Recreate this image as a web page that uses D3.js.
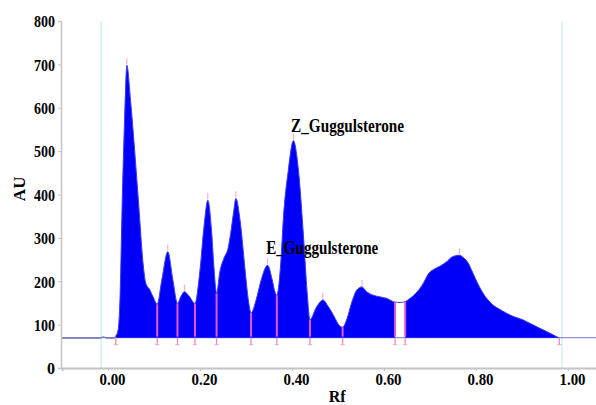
<!DOCTYPE html>
<html><head><meta charset="utf-8">
<script src="https://cdn.jsdelivr.net/npm/d3@7"></script>
<style>
html,body{margin:0;padding:0;background:#fff;overflow:hidden;}
text{font-family:"Liberation Serif","Times New Roman",serif;font-weight:bold;fill:#000;}
</style></head>
<body><svg id="c" width="596" height="405"></svg>
<script>
// Densitogram trace (Rf, AU)
const rf = [-0.102,-0.017,-0.011,-0.0065,-0.002,0.013,0.017,0.022,0.026,0.031,0.036,0.041,
  0.049,0.055,0.066,0.077,0.082,0.091,0.098,0.107,
  0.117,0.130,0.141,0.151,
  0.159,0.166,0.176,0.189,
  0.200,0.209,0.217,0.225,0.230,0.236,
  0.243,0.252,0.261,0.267,0.273,0.278,0.287,0.298,0.305,0.311,
  0.322,0.333,0.347,0.357,0.363,0.367,
  0.370,0.376,0.381,0.392,0.403,0.414,0.425,0.433,0.439,
  0.452,0.461,0.467,0.478,0.491,0.502,0.510,
  0.520,0.530,0.541,0.552,0.561,0.576,0.591,0.607,0.620,0.624,0.635,0.646,
  0.657,0.670,0.683,0.698,0.711,0.722,0.735,0.748,0.764,0.774,0.783,0.791,0.800,
  0.815,0.826,0.837,0.852,0.865,0.883,0.902,0.917,0.938,0.959,0.981];
const au = [69,69,72,71,69,69,74,88,157,387,571,698,
  617,541,387,233,196,180,164,147,
  203,268,203,149,
  166,176,166,149,
  226,329,387,318,237,172,
  221,253,276,313,359,391,341,226,157,127,
  157,203,237,203,175,168,
  180,249,341,456,524,456,303,173,111,
  138,152,157,143,120,99,94,
  115,152,180,187,177,168,164,160,153,152,151,153,
  161,173,191,219,229,235,244,256,260,253,242,224,203,
  173,157,145,135,127,118,111,103,92,81,69];
const baselineAU = 70;
const trackStart = -0.015, trackEnd = 0.987;
const gapFrom = 0.624, gapTo = 0.646;
const fillStart = 0.017, fillEnd = 0.981;
// integration boundaries (valleys) and their heights
const valleyRf = [0.107,0.151,0.189,0.236,0.311,0.367,0.439,0.510,0.624,0.646];
const valleyAU = [147,149,149,172,127,168,111,94,152,153];
// peak maxima
const peakRf = [0.041,0.130,0.166,0.217,0.278,0.347,0.403,0.467,0.552,0.764];
const peakAU = [698,268,176,387,391,237,524,157,187,260];
// annotations
const labels = [
  {text:"Z_Guggulsterone", rf:0.398, au:545, len:113},
  {text:"E_Guggulsterone", rf:0.344, au:262, len:112}
];
const xTicks = [0,0.2,0.4,0.6,0.8,1.0];
const yTicks = [0,100,200,300,400,500,600,700,800];

const svg = d3.select("#c");
const x = d3.scaleLinear().domain([-0.1,1.063]).range([62,597]);
const y = d3.scaleLinear().domain([0,800]).range([368,21]);
const pts = rf.map((r,i)=>({r:r,v:au[i]}));

// track limit lines
svg.selectAll("line.trk").data([trackStart,trackEnd]).enter().append("line")
  .attr("x1",d=>x(d)).attr("x2",d=>x(d)).attr("y1",y(800)).attr("y2",y(0))
  .attr("stroke","#bde9f2").attr("stroke-width",1);

// baseline
svg.append("line").attr("x1",x(-0.1)).attr("x2",597)
  .attr("y1",y(baselineAU)).attr("y2",y(baselineAU))
  .attr("stroke","#8f8fd8").attr("stroke-width",1.2);

const area = d3.area().x(d=>x(d.r)).y0(y(baselineAU)).y1(d=>y(d.v)).curve(d3.curveMonotoneX);
const seg1 = pts.filter(d=>d.r>=fillStart && d.r<=gapFrom);
const seg2 = pts.filter(d=>d.r>=gapTo && d.r<=fillEnd);
[seg1,seg2].forEach(s=>svg.append("path").datum(s).attr("d",area).attr("fill","#0000fa"));

const line = d3.line().x(d=>x(d.r)).y(d=>y(d.v)).curve(d3.curveMonotoneX);
svg.append("path").datum(pts.filter(d=>d.r<=fillStart+0.001)).attr("d",line)
  .attr("fill","none").attr("stroke","#6a78a8").attr("stroke-width",1.2);
svg.append("path").datum(pts.filter(d=>d.r>=fillStart)).attr("d",line)
  .attr("fill","none").attr("stroke","#3a3af0").attr("stroke-width",1);

// drop lines
const pink = "#e45ac8";
svg.selectAll("line.drop").data(valleyRf).enter().append("line")
  .attr("x1",d=>x(d)).attr("x2",d=>x(d))
  .attr("y1",(d,i)=>y(valleyAU[i])).attr("y2",y(baselineAU)-1)
  .attr("stroke",pink).attr("stroke-width",2);
// marks below baseline
const allMarks = [fillStart].concat(valleyRf,[fillEnd]);
svg.selectAll("line.bm").data(allMarks).enter().append("line")
  .attr("x1",d=>x(d)).attr("x2",d=>x(d))
  .attr("y1",y(baselineAU)).attr("y2",y(baselineAU)+7)
  .attr("stroke","#ee88c8").attr("stroke-width",1.3);
svg.selectAll("line.bf").data(allMarks).enter().append("line")
  .attr("x1",d=>x(d)-2).attr("x2",d=>x(d)+2)
  .attr("y1",y(baselineAU)+7).attr("y2",y(baselineAU)+7)
  .attr("stroke","#f0a0d0").attr("stroke-width",1);
// peak marks
svg.selectAll("line.pk").data(peakRf).enter().append("line")
  .attr("x1",d=>x(d)).attr("x2",d=>x(d))
  .attr("y1",(d,i)=>y(peakAU[i])-1).attr("y2",(d,i)=>y(peakAU[i])-7)
  .attr("stroke","#f0a0c8").attr("stroke-width",1);

// axes
const gy = svg.append("g").attr("transform",`translate(${x(-0.1)-1},0)`)
  .call(d3.axisLeft(y).tickValues(yTicks).tickSize(3).tickFormat(d3.format("d")));
const gx = svg.append("g").attr("transform",`translate(0,${y(0)})`)
  .call(d3.axisBottom(x).tickValues(xTicks).tickSize(3).tickFormat(d3.format(".2f")));
[gy,gx].forEach(g=>{
  g.selectAll("path.domain").attr("stroke","#c4c4c4");
  g.selectAll(".tick line").attr("stroke","#c4c4c4");
});
gy.select("path.domain").attr("stroke-width",1.5);
gx.select("path.domain").attr("stroke-width",2);
gy.selectAll(".tick text").attr("x",-6).attr("dy","0.34em")
  .style("font-family","'Liberation Serif',serif").style("font-weight","bold")
  .style("font-size","17px").attr("fill","#000")
  .attr("textLength",d=>d===0?8:21).attr("lengthAdjust","spacingAndGlyphs");
gx.selectAll(".tick text").attr("dx",4).attr("y",17).attr("dy",0)
  .style("font-family","'Liberation Serif',serif").style("font-weight","bold")
  .style("font-size","17px").attr("fill","#000")
  .attr("textLength",26).attr("lengthAdjust","spacingAndGlyphs");

// axis titles
svg.append("text").attr("transform",`translate(${x(-0.1)-37},${y(413)}) rotate(-90)`)
  .attr("text-anchor","middle").style("font-size","17px").text("AU");
svg.append("text").attr("x",x(0.498)).attr("y",y(0)+34).attr("text-anchor","middle")
  .style("font-size","16px").text("Rf");

// annotations
svg.selectAll("text.lab").data(labels).enter().append("text")
  .attr("x",d=>x(d.rf)).attr("y",d=>y(d.au)).attr("text-anchor","start")
  .style("font-size","19px").attr("textLength",d=>d.len).attr("lengthAdjust","spacingAndGlyphs")
  .text(d=>d.text);
</script></body></html>
